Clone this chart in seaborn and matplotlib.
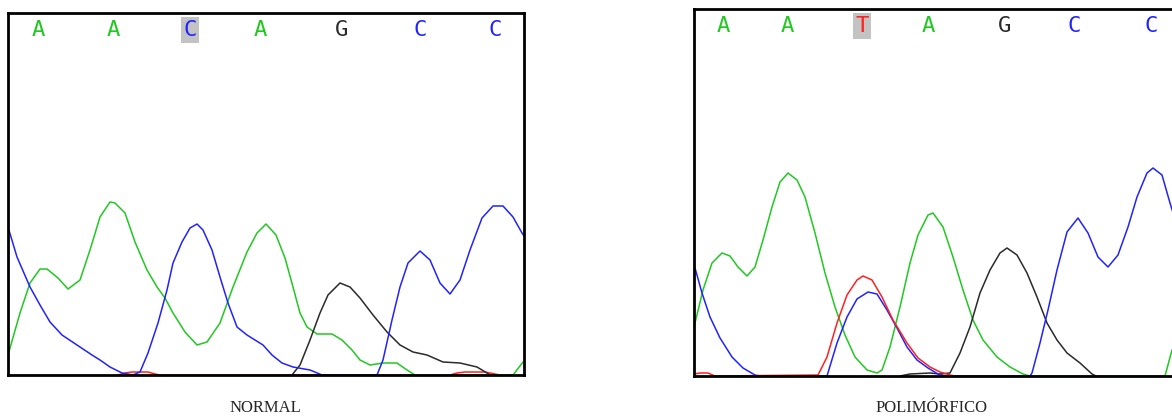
import matplotlib
matplotlib.use("Agg")
import matplotlib.pyplot as plt
import seaborn as sns
import pandas as pd

# ---------------- data (x = scan position, y = signal height) ----------------
normal_green_x = [0, 12, 22, 32, 39, 50, 60, 72, 82, 92, 102, 107, 117, 127, 139, 149, 157, 165, 177, 189,
                  199, 212, 225, 239, 249, 258, 268, 277, 285, 292, 299, 309, 324, 334, 344, 352, 362, 375,
                  389, 399, 407, 505, 515]
normal_green_y = [20, 62, 92, 106, 106, 97, 86, 95, 125, 158, 173, 172, 162, 133, 105, 88, 77, 62, 43, 30,
                  33, 52, 88, 123, 142, 151, 140, 117, 88, 62, 48, 41, 41, 35, 25, 15, 10, 12,
                  12, 5, 0, 0, 13]

normal_blue_x = [0, 9, 22, 32, 42, 54, 69, 84, 92, 102, 114, 125, 132, 140, 150, 159, 165, 174, 182, 189,
                 195, 204, 212, 220, 229, 239, 255, 264, 274, 285, 302, 314, 369, 375, 384, 392, 400, 412,
                 422, 432, 442, 452, 462, 474, 485, 495, 505, 514, 516]
normal_blue_y = [148, 118, 88, 70, 53, 40, 30, 20, 15, 8, 2, 0, 3, 22, 52, 85, 112, 133, 147, 151,
                 145, 125, 98, 72, 48, 40, 30, 20, 12, 8, 5, 0, 0, 15, 55, 88, 112, 124,
                 115, 92, 81, 95, 125, 157, 169, 169, 158, 142, 139]

normal_black_x = [284, 292, 302, 312, 320, 332, 342, 352, 365, 379, 392, 405, 419, 435, 452, 469, 479, 482]
normal_black_y = [0, 10, 35, 62, 80, 92, 88, 77, 60, 43, 30, 23, 20, 13, 12, 8, 2, 0]

normal_red_x = [110, 117, 124, 140, 147, 152, 442, 449, 457, 477, 487, 492]
normal_red_y = [0, 2, 3, 3, 1, 0, 0, 2, 3, 3, 1, 0]

poly_green_x = [1, 9, 18, 28, 36, 44, 53, 61, 69, 78, 86, 94, 103, 111, 121, 131, 141, 151, 161, 173,
                183, 188, 196, 206, 216, 224, 234, 239, 249, 259, 269, 279, 289, 303, 316, 329, 336,
                471, 478]
poly_green_y = [53, 86, 113, 123, 120, 109, 100, 109, 136, 169, 194, 203, 196, 179, 143, 103, 69, 41, 19, 6,
                3, 6, 29, 69, 113, 141, 161, 163, 149, 119, 86, 56, 36, 19, 9, 2, 0,
                0, 26]

poly_blue_x = [1, 8, 16, 26, 38, 49, 61, 66, 133, 143, 153, 163, 174, 183, 193, 203, 213, 223, 234, 244,
               251, 336, 338, 346, 354, 363, 373, 384, 394, 404, 414, 424, 434, 443, 453, 459, 468, 476, 480]
poly_blue_y = [108, 83, 59, 38, 19, 8, 1, 0, 0, 33, 59, 77, 84, 82, 66, 48, 29, 16, 8, 2,
               0, 0, 3, 33, 66, 106, 144, 158, 143, 119, 109, 121, 149, 179, 203, 208, 201, 173, 160]

poly_red_x = [0, 6, 14, 21, 124, 133, 143, 153, 163, 169, 178, 188, 199, 213, 224, 236, 246, 256, 261]
poly_red_y = [2, 3, 3, 0, 1, 19, 53, 81, 96, 100, 96, 79, 56, 33, 18, 9, 4, 1, 0]

poly_black_x = [206, 216, 236, 246, 256, 266, 276, 286, 296, 306, 313, 323, 333, 343, 353, 363, 373, 386,
                398, 402]
poly_black_y = [0, 2, 3, 2, 3, 23, 49, 83, 106, 123, 128, 121, 103, 79, 53, 36, 23, 13,
                2, 0]

normal_bases = ["A", "A", "C", "A", "G", "C", "C"]
normal_base_x = [30, 105, 182, 252, 334, 412, 487]
poly_bases = ["A", "A", "T", "A", "G", "C", "C"]
poly_base_x = [29, 93, 168, 234, 311, 380, 457]

panel_titles = ["NORMAL", "POLIMÓRFICO"]

# ---------------- styling ----------------
sns.set_style("white")
colors = {"A": "#22c822", "C": "#2222ff", "G": "#2a2a2a", "T": "#ff2020"}

fig = plt.figure(figsize=(11.72, 4.2), dpi=100)
W, H = 1172.0, 420.0
ax1 = fig.add_axes([8 / W, 45 / H, 516 / W, 362 / H])
ax2 = fig.add_axes([694 / W, 44 / H, 480 / W, 367 / H])


def draw(ax, traces, bases, base_x, highlight, ytop, xmax):
    for (xs, ys, base) in traces:
        df = pd.DataFrame({"x": xs, "y": ys})
        sns.lineplot(data=df, x="x", y="y", ax=ax, color=colors[base], lw=1.1,
                     sort=False, estimator=None, legend=False)
    ax.set_xlim(0, xmax)
    ax.set_ylim(0, ytop)
    ax.set_xticks([])
    ax.set_yticks([])
    ax.set_xlabel("")
    ax.set_ylabel("")
    for s in ax.spines.values():
        s.set_linewidth(2.0)
        s.set_color("black")
    for i, (b, bx) in enumerate(zip(bases, base_x)):
        kw = {}
        if i == highlight:
            kw["bbox"] = dict(boxstyle="square,pad=0.12", facecolor="#c3c3c3", edgecolor="none")
        ax.text(bx, ytop - 17, b, color=colors[b], ha="center", va="center",
                family="DejaVu Sans Mono", fontsize=16, **kw)


draw(ax1,
     [(normal_red_x, normal_red_y, "T"), (normal_green_x, normal_green_y, "A"),
      (normal_black_x, normal_black_y, "G"), (normal_blue_x, normal_blue_y, "C")],
     normal_bases, normal_base_x, 2, 362, 516)
draw(ax2,
     [(poly_green_x, poly_green_y, "A"), (poly_black_x, poly_black_y, "G"),
      (poly_blue_x, poly_blue_y, "C"), (poly_red_x, poly_red_y, "T")],
     poly_bases, poly_base_x, 2, 367, 480)
ax2.spines["right"].set_visible(False)

fig.text(265 / W, 1 - 408 / H, panel_titles[0], ha="center", va="center",
         family="Liberation Serif", fontsize=12)
fig.text(932 / W, 1 - 408 / H, panel_titles[1], ha="center", va="center",
         family="Liberation Serif", fontsize=12)

fig.savefig("out.png", dpi=100, facecolor="white")
